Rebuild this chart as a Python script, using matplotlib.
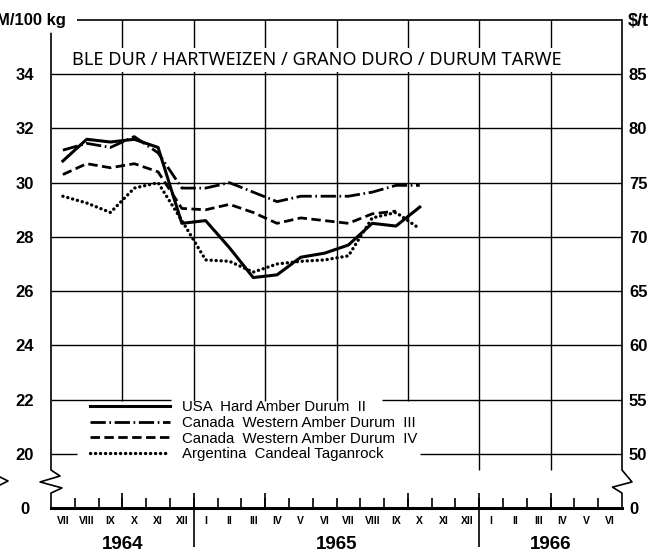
import matplotlib
matplotlib.use("Agg")
import matplotlib.pyplot as plt
from matplotlib.lines import Line2D
import numpy as np

# ---- data -------------------------------------------------------------
month_labels = ['VII', 'VIII', 'IX', 'X', 'XI', 'XII',
                'I', 'II', 'III', 'IV', 'V', 'VI', 'VII', 'VIII', 'IX', 'X', 'XI', 'XII',
                'I', 'II', 'III', 'IV', 'V', 'VI']
year_labels = ['1964', '1965', '1966']
year_centers = [3, 12, 21]          # month index at the middle of each year span
year_bounds = [6, 18]

# prices in DM/100 kg, one value per month starting VII 1964
usa_hard_amber_ii = [30.8, 31.6, 31.5, 31.6, 31.3, 28.5, 28.6, 27.6, 26.5, 26.6,
                     27.25, 27.4, 27.7, 28.5, 28.4, 29.1]
canada_wad_iii = [31.2, 31.45, 31.3, 31.7, 31.1, 29.8, 29.8, 30.0, 29.65, 29.3,
                  29.5, 29.5, 29.5, 29.65, 29.9, 29.9]
canada_wad_iv = [30.3, 30.7, 30.55, 30.7, 30.4, 29.05, 29.0, 29.2, 28.9, 28.5,
                 28.7, 28.6, 28.5, 28.85, 28.95]
argentina_taganrock = [29.5, 29.25, 28.9, 29.8, 30.0, 28.6, 27.15, 27.1, 26.7, 27.0,
                       27.1, 27.15, 27.3, 28.7, 28.9, 28.3]

series_labels = ['USA  Hard Amber Durum  II',
                 'Canada  Western Amber Durum  III',
                 'Canada  Western Amber Durum  IV',
                 'Argentina  Candeal Taganrock']

dm_ticks = [20, 22, 24, 26, 28, 30, 32, 34]
usd_ticks = [50, 55, 60, 65, 70, 75, 80, 85]
DM_PER_USD_T = 0.4          # 1 $/t = 0.4 DM/100 kg
BREAK_LEVEL = 18            # axis position used for the suppressed zero

# ---- figure -----------------------------------------------------------
NUM_FONT = ['Liberation Sans', 'DejaVu Sans']
TITLE_FONT = ['Noto Sans', 'Liberation Sans', 'DejaVu Sans']
plt.rcParams['font.family'] = NUM_FONT

W, H = 658, 553
fig = plt.figure(figsize=(W / 100, H / 100), dpi=100)
ax = fig.add_axes([51 / W, 1 - 508 / H, 571 / W, 488 / H])
ax.set_xlim(0, 24)
ax.set_ylim(BREAK_LEVEL, 36)

for s in ('left', 'right', 'top'):
    ax.spines[s].set_visible(False)
ax.spines['bottom'].set_linewidth(2.2)

# grid
grid_kw = dict(color='black', linewidth=1.0, zorder=1)
for v in dm_ticks:
    if v == 22:
        ax.hlines(v, 0, 5.04, **grid_kw)
        ax.hlines(v, 13.9, 24, **grid_kw)
    elif v == 20:
        ax.hlines(v, 0, 1.09, **grid_kw)
        ax.hlines(v, 15.5, 24, **grid_kw)
    else:
        ax.hlines(v, 0, 24, **grid_kw)
ax.hlines(36, 1.09, 24, color='black', linewidth=1.2, clip_on=False)
ax.vlines([3, 6, 9, 12, 15], 21.95, 36, **grid_kw)
ax.vlines([18, 21], 19.4, 36, **grid_kw)

# vertical axes with break marks
ax.plot([0, 0, 0.38, -0.46, 0.46, 0, 0],
        [35.5, 19.40, 19.18, 18.96, 18.74, 18.55, 18],
        color='black', linewidth=1.2, clip_on=False, zorder=3)
ax.plot([24, 24, 24.42, 23.6, 24, 24],
        [36, 19.40, 18.96, 18.77, 18.55, 18],
        color='black', linewidth=1.2, clip_on=False, zorder=3)
fig.add_artist(Line2D([0 / W, 8 / W, 0 / W], [1 - 477 / H, 1 - 481 / H, 1 - 485 / H],
                      color='black', linewidth=1.2))

# ---- series -----------------------------------------------------------
def xs(vals):
    return np.arange(len(vals)) + 0.5

styles = [
    dict(linestyle='-', linewidth=2.2),
    dict(linestyle=(0, (5.5, 1.3, 0.6, 1.3)), linewidth=2.0),
    dict(linestyle=(0, (3.4, 1.6)), linewidth=2.0),
    dict(linestyle=(0, (0.05, 1.45)), linewidth=2.4, dash_capstyle='round'),
]
handles = []
for vals, st in zip([usa_hard_amber_ii, canada_wad_iii, canada_wad_iv, argentina_taganrock], styles):
    ln, = ax.plot(xs(vals), vals, color='black', zorder=4, **st)
    handles.append(ln)

leg = ax.legend(handles, series_labels, loc='upper left',
                bbox_to_anchor=(39 / 571, 108 / 488), borderaxespad=0, borderpad=0,
                frameon=False, handlelength=5.3, handletextpad=0.85, labelspacing=0.12,
                prop=dict(family=['Liberation Sans', 'DejaVu Sans'], size=10.8))

# ---- ticks and labels ---------------------------------------------------
ax.set_xticks(np.arange(24) + 0.5)
ax.set_xticklabels(month_labels, fontsize=7.5, fontweight='bold', family=NUM_FONT)
ax.set_xticks(np.arange(1, 24), minor=True)
ax.tick_params(axis='x', which='major', length=0, pad=6)
ax.tick_params(axis='x', which='minor', direction='in', length=7, width=1.2)
ax.vlines([3, 9, 15, 21], 18, 18.55, color='black', linewidth=1.2, zorder=3)
ax.vlines(year_bounds, 16.56, 18.55, color='black', linewidth=1.2, clip_on=False, zorder=3)
for lab, xc in zip(year_labels, year_centers):
    ax.text(xc, 16.67, lab, ha='center', va='center', fontsize=13.5,
            fontweight='bold', family=NUM_FONT, clip_on=False)

ax.set_yticks([BREAK_LEVEL] + dm_ticks)
ax.set_yticklabels(['0'] + [str(v) for v in dm_ticks], fontsize=12, fontweight='bold')
for t in ax.get_yticklabels():
    t.set_horizontalalignment('center')
ax.tick_params(axis='y', length=0, pad=19)

ax2 = ax.twinx()
ax2.set_ylim(ax.get_ylim())
for s in ax2.spines.values():
    s.set_visible(False)
ax2.set_yticks([BREAK_LEVEL] + [u * DM_PER_USD_T for u in usd_ticks])
ax2.set_yticklabels(['0'] + [str(u) for u in usd_ticks], fontsize=12, fontweight='bold')
ax2.tick_params(axis='y', length=0, pad=5)

# unit labels and title
fig.text(66 / W, 1 - 21 / H, 'DM/100 kg', ha='right', va='center',
         fontsize=12, fontweight='bold')
fig.text(628 / W, 1 - 21 / H, '$/t', ha='left', va='center',
         fontsize=13, fontweight='bold')
ax.text(11.18, 34.52, 'BLE DUR / HARTWEIZEN / GRANO DURO / DURUM TARWE',
        ha='center', va='center', fontsize=13.1, family=TITLE_FONT, zorder=5,
        bbox=dict(facecolor='white', edgecolor='none', pad=2))

fig.savefig('out.png', dpi=100)
